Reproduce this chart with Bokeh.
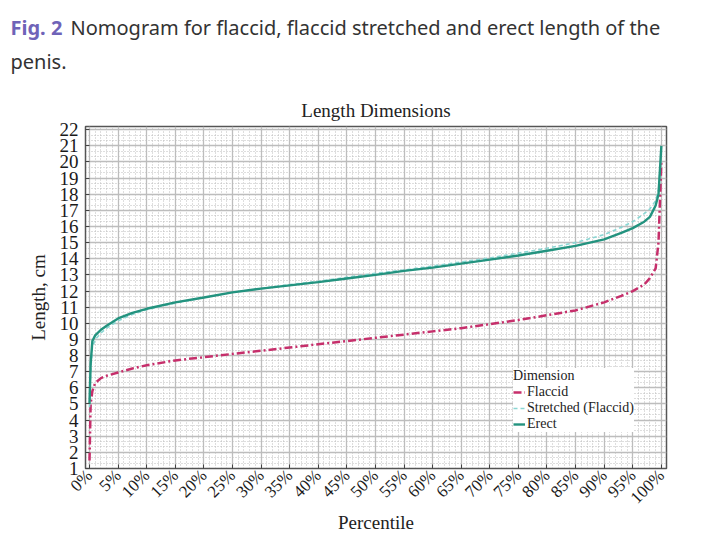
from bokeh.plotting import figure
from bokeh.layouts import column
from bokeh.models import (Range1d, SingleIntervalTicker, PrintfTickFormatter, Label, Legend, LegendItem)
from bokeh.embed import file_html
from bokeh.resources import INLINE
import math

# ---- data ----
percentile = [0, 0.2, 0.5, 1, 2, 3, 5, 7.5, 10, 15, 20, 25, 30, 35, 40, 45, 50, 55, 60,
              65, 70, 75, 80, 85, 90, 93, 95, 97, 98, 99, 99.5, 100]
flaccid = [1.5, 5.0, 5.8, 6.3, 6.6, 6.75, 6.95, 7.2, 7.4, 7.7, 7.9, 8.1, 8.3, 8.5, 8.7, 8.9,
           9.1, 9.3, 9.5, 9.7, 9.95, 10.2, 10.5, 10.8, 11.3, 11.7, 12.0, 12.4, 12.8, 13.4, 15.0, 20.0]
stretched = [4.8, 7.0, 8.5, 9.0, 9.4, 9.7, 10.15, 10.55, 10.85, 11.25, 11.6, 11.92, 12.15, 12.4,
             12.6, 12.85, 13.1, 13.3, 13.55, 13.8, 14.05, 14.35, 14.65, 15.0, 15.5, 15.95, 16.3,
             16.8, 17.1, 17.6, 18.3, 20.5]
erect = [5.0, 7.5, 8.9, 9.25, 9.6, 9.85, 10.3, 10.65, 10.9, 11.3, 11.6, 11.92, 12.15, 12.35,
         12.55, 12.78, 13.0, 13.25, 13.45, 13.7, 13.95, 14.2, 14.5, 14.8, 15.2, 15.6, 15.9,
         16.3, 16.6, 17.3, 18.0, 21.0]
series_names = ["Flaccid", "Stretched (Flaccid)", "Erect"]
caption_lead = "Fig. 2"
caption_line1 = "Nomogram for flaccid, flaccid stretched and erect length of the"
caption_line2 = "penis."

SERIF = "Liberation Serif"
SANS = "Noto Sans"

# ---- caption strip (pixel coordinates, top = 0) ----
cap = figure(width=720, height=85, output_backend="svg", toolbar_location=None,
             x_range=Range1d(0, 720), y_range=Range1d(85, 0),
             min_border=0, background_fill_color="white", border_fill_color="white")
cap.frame_align = False
cap.axis.visible = False
cap.grid.visible = False
cap.outline_line_color = None
cap.add_layout(Label(x=10, y=27, text=caption_lead, text_font=SANS, text_font_size="20px",
                     text_font_style="bold", text_color="#6f63b8",
                     text_baseline="middle", text_align="left"))
cap.add_layout(Label(x=70, y=27, text=caption_line1, text_font=SANS, text_font_size="20px",
                     text_color="#333333", text_baseline="middle", text_align="left"))
cap.add_layout(Label(x=10, y=61, text=caption_line2, text_font=SANS, text_font_size="20px",
                     text_color="#333333", text_baseline="middle", text_align="left"))

# ---- main chart ----
p = figure(width=720, height=460, output_backend="svg", toolbar_location=None,
           x_range=Range1d(-0.7, 100.9), y_range=Range1d(1.0, 22.2),
           min_border_left=85, min_border_right=54, min_border_top=41, min_border_bottom=77,
           background_fill_color="white", border_fill_color="white")
p.frame_align = False

p.title.text = "Length Dimensions"
p.title.align = "center"
p.title.text_font = SERIF
p.title.text_font_size = "19px"
p.title.text_font_style = "normal"
p.title.text_color = "#222222"
p.title.offset = 0
p.title.standoff = 12

p.outline_line_color = "#555555"
p.outline_line_width = 1.5

p.xaxis.ticker = SingleIntervalTicker(interval=5, num_minor_ticks=5)
p.yaxis.ticker = SingleIntervalTicker(interval=1, num_minor_ticks=3)
p.xaxis.formatter = PrintfTickFormatter(format="%d%%")
p.xaxis.major_label_orientation = math.pi / 4
for ax in (p.xaxis[0], p.yaxis[0]):
    ax.axis_line_color = "#555555"
    ax.major_tick_in = 4
    ax.major_tick_out = 0
    ax.major_tick_line_color = "#444444"
    ax.minor_tick_line_color = None
    ax.major_label_text_font = SERIF
    ax.major_label_text_color = "#1a1a1a"
    ax.axis_label_text_font = SERIF
    ax.axis_label_text_font_style = "normal"
    ax.axis_label_text_font_size = "19px"
    ax.axis_label_text_color = "#222222"
p.xaxis.major_label_text_font_size = "17px"
p.yaxis.major_label_text_font_size = "19px"
p.yaxis.major_label_standoff = 3
p.xaxis.major_label_standoff = 0
p.xaxis.axis_label = "Percentile"
p.yaxis.axis_label = "Length, cm"
p.xaxis.axis_label_standoff = -5
p.yaxis.axis_label_standoff = 8

for g in (p.xgrid[0], p.ygrid[0]):
    g.grid_line_color = "#bdbdbd"
    g.grid_line_width = 1.3
    g.minor_grid_line_color = "#bcbcbc"
    g.minor_grid_line_dash = "1 2"
    g.minor_grid_line_width = 1

r_fl = p.line(percentile, flaccid, line_color="#c62f6b", line_width=2.5, line_dash="8 3 2 3")
r_st = p.line(percentile, stretched, line_color="#8ad6d3", line_width=1.6, line_dash="4 3")
r_er = p.line(percentile, erect, line_color="#23937f", line_width=2.4)

legend = Legend(items=[LegendItem(label=series_names[0], renderers=[r_fl]),
                       LegendItem(label=series_names[1], renderers=[r_st]),
                       LegendItem(label=series_names[2], renderers=[r_er])],
                location=(428, 36), title="Dimension",
                title_text_font=SERIF, title_text_font_size="14px", title_text_font_style="normal",
                label_text_font=SERIF, label_text_font_size="14px", label_text_color="#222222",
                title_text_color="#222222",
                glyph_width=12, glyph_height=12, label_height=13, spacing=0,
                padding=5, margin=0, label_standoff=2, title_standoff=0,
                background_fill_color="white", background_fill_alpha=1.0,
                border_line_color=None)
p.add_layout(legend, "center")

layout = column(cap, p, spacing=0)
open("out.html", "w").write(file_html(layout, INLINE))
